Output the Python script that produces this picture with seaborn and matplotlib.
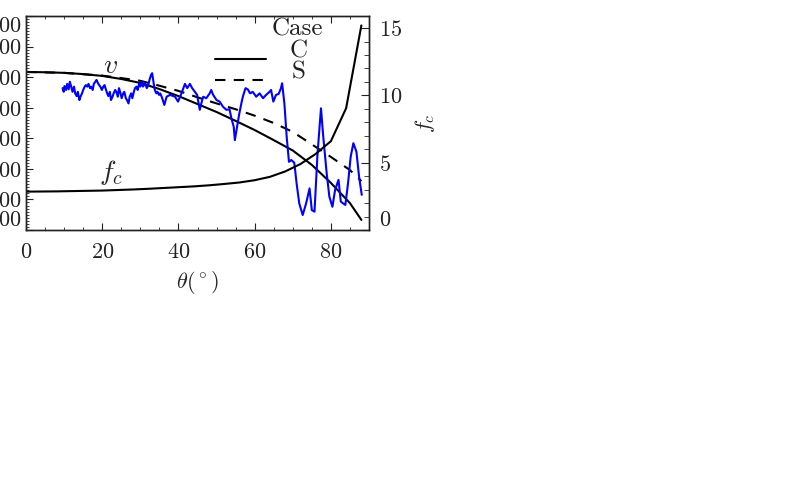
import seaborn as sns
import matplotlib.pyplot as plt
from matplotlib.ticker import MultipleLocator

# model curve, case C (solid)
theta_c = [0, 5, 10, 15, 20, 25, 30, 35, 40, 45, 50, 55, 60, 65, 70, 75, 80, 85, 88]
v_c = [6170, 6160, 6140, 6100, 6040, 5940, 5810, 5610, 5380, 5120, 4860, 4570,
       4270, 3940, 3600, 3130, 2540, 1880, 1330]

# model curve, case S (dashed)
theta_s = [0, 10, 20, 25, 30, 35, 40, 45, 50, 55, 60, 65, 70, 75, 80, 85, 88]
v_s = [6170, 6140, 6050, 5970, 5880, 5720, 5550, 5340, 5140, 4950, 4740, 4500,
       4210, 3800, 3390, 2960, 2600]

# f_c on the right axis
theta_fc = [0, 4, 8, 12, 16, 20, 24, 28, 32, 36, 40, 44, 48, 52, 56, 60, 64, 68,
            72, 76, 80, 84, 88]
fc = [2.85, 2.86, 2.87, 2.89, 2.91, 2.93, 2.97, 3.01, 3.06, 3.12, 3.18, 3.24,
      3.32, 3.42, 3.53, 3.70, 3.95, 4.35, 4.90, 5.65, 6.60, 9.05, 15.2]

# measured v (blue)
theta_obs = [9.6, 9.9, 10.1, 10.5, 10.8, 11.2, 11.5, 11.9, 12.2, 12.6, 12.9, 13.3,
             13.6, 14.0, 14.3, 14.7, 15.0, 15.4, 15.7, 16.1, 16.4, 16.8, 17.1, 17.5,
             17.8, 18.2, 18.5, 18.9, 19.2, 19.6, 19.9, 20.3, 20.6, 21.0, 21.3, 21.6,
             22.0, 22.3, 22.7, 23.0, 23.4, 23.7, 24.1, 24.4, 24.8, 25.1, 25.5, 25.8,
             26.2, 26.5, 26.9, 27.2, 27.6, 27.9, 28.3, 28.6, 29.0, 29.3, 29.7, 30.0,
             30.4, 30.7, 31.1, 31.4, 31.7, 32.1, 32.4, 32.8, 33.1, 33.5, 33.8, 34.2,
             34.5, 34.9, 35.2, 35.6, 35.9, 36.3, 36.9, 37.8, 39.1, 39.9, 40.8, 41.7,
             42.3, 43.0, 43.6, 44.3, 44.9, 45.6, 46.0, 46.5, 47.3, 48.2, 48.6, 49.1,
             50.0, 50.8, 51.7, 52.6, 53.4, 53.9, 54.5, 54.8, 55.4, 55.9, 56.5, 56.9,
             57.6, 58.2, 58.8, 59.5, 60.4, 61.3, 62.2, 63.0, 63.9, 64.3, 64.9, 65.6,
             66.3, 66.9, 67.2, 67.8, 68.4, 69.0, 69.6, 70.4, 71.0, 71.7, 72.6, 73.5,
             74.4, 75.0, 75.7, 76.5, 77.4, 78.0, 78.9, 79.6, 80.4, 81.1, 82.0, 82.6,
             83.2, 83.8, 84.5, 85.2, 85.9, 86.7, 87.4, 88.1]
v_obs = [5640, 5520, 5710, 5580, 5780, 5600, 5850, 5670, 5520, 5690, 5470, 5380,
         5520, 5250, 5360, 5470, 5580, 5690, 5740, 5690, 5780, 5640, 5690, 5580,
         5780, 5850, 5910, 5800, 5740, 5670, 5580, 5690, 5740, 5580, 5470, 5380,
         5520, 5250, 5360, 5470, 5580, 5520, 5360, 5640, 5470, 5310, 5470, 5520,
         5310, 5250, 5140, 5360, 5470, 5310, 5520, 5640, 5690, 5580, 5800, 5690,
         5850, 5690, 5800, 5740, 5640, 5740, 5910, 6070, 6130, 5800, 5580, 5470,
         5520, 5420, 5470, 5360, 5250, 5090, 5360, 5420, 5360, 5200, 5470, 5780,
         5640, 5780, 5640, 5520, 5420, 4930, 5140, 5360, 5310, 5470, 5580, 5420,
         5250, 5200, 5030, 4930, 4950, 4650, 4380, 3940, 4380, 4760, 5140, 5360,
         5640, 5600, 5470, 5520, 5360, 5470, 5310, 5420, 5520, 5580, 5200, 5420,
         5450, 5640, 5800, 5140, 4050, 3230, 3290, 3200, 2530, 1870, 1490, 1870,
         2360, 1650, 1600, 3510, 4980, 4050, 2850, 2090, 1760, 2310, 2640, 1930,
         1870, 1820, 2530, 3400, 3840, 3560, 2740, 2150]

v_ticks = [1000, 2000, 3000, 4000, 5000, 6000, 7000, 8000]
fc_ticks = [0, 5, 10, 15]

DASH = (0, (5, 4))


def main():
	sns.set_style('ticks')
	plt.rcParams['font.family'] = ['cmr10', 'DejaVu Serif']
	plt.rcParams['mathtext.fontset'] = 'cm'
	plt.rcParams['axes.formatter.use_mathtext'] = True
	plt.rcParams['font.size'] = 16

	fig = plt.figure(figsize=(7.89, 4.94), dpi=100)
	ax = fig.add_axes([26 / 789, 1 - 230 / 494, 343 / 789, 214 / 494])

	# the two model curves for v
	sns.lineplot(x=theta_c, y=v_c, color='black', lw=1.5, ax=ax)
	sns.lineplot(x=theta_s, y=v_s, color='black', lw=1.5, linestyle=DASH, ax=ax)
	# measurements on top
	sns.lineplot(x=theta_obs, y=v_obs, color='#0000ff', lw=1.5, ax=ax,
		estimator=None, sort=False)

	ax.set_xlim(0, 90)
	ax.set_ylim(1000, 8000)
	ax.xaxis.set_major_locator(MultipleLocator(20))
	ax.xaxis.set_minor_locator(MultipleLocator(5))
	ax.set_yticks(v_ticks)
	ax.yaxis.set_minor_locator(MultipleLocator(100))
	ax.tick_params(which='both', direction='in', top=True, right=False,
		labelsize=16, color='#222222', labelcolor='#222222')
	ax.tick_params(which='major', length=5, width=0.8)
	ax.tick_params(which='minor', length=2.5, width=0.6)
	ax.tick_params(axis='x', pad=9)
	ax.tick_params(axis='y', pad=3)
	ax.set_xlabel(r'$\theta(^\circ)$', fontsize=16, labelpad=5)
	ax.set_ylabel('')

	# f_c on a second axis
	ax2 = ax.twinx()
	sns.lineplot(x=theta_fc, y=fc, color='black', lw=1.5, ax=ax2)
	ax2.set_ylim(0, 15.9)
	ax2.set_yticks(fc_ticks)
	ax2.yaxis.set_minor_locator(MultipleLocator(1))
	ax2.tick_params(which='both', direction='in', labelsize=16, color='#222222',
		labelcolor='#222222', pad=7)
	ax2.tick_params(which='major', length=6, width=0.8)
	ax2.tick_params(which='minor', length=3.5, width=0.6)
	ax2.set_ylabel(r'$f_c$', fontsize=16, rotation=90, labelpad=8)

	for a in (ax, ax2):
		for sp in a.spines.values():
			sp.set_linewidth(1.0)
			sp.set_color('#222222')

	# curve labels
	ax.text(0.245, 0.766, r'$v$', transform=ax.transAxes, fontsize=20,
		ha='center', va='center')
	ax.text(0.248, 0.271, r'$f_c$', transform=ax.transAxes, fontsize=20,
		ha='center', va='center')

	# legend, drawn by hand like the original
	ax.text(0.79, 0.939, 'Case', transform=ax.transAxes, ha='center',
		va='center', fontsize=18, color='#222222')
	ax.plot([0.551, 0.700], [0.799, 0.799], transform=ax.transAxes,
		color='black', lw=1.5)
	ax.text(0.796, 0.836, 'C', transform=ax.transAxes, ha='center',
		va='center', fontsize=18, color='#222222')
	ax.plot([0.551, 0.694], [0.701, 0.701], transform=ax.transAxes,
		color='black', lw=1.5, linestyle=DASH)
	ax.text(0.796, 0.738, 'S', transform=ax.transAxes, ha='center',
		va='center', fontsize=18, color='#222222')

	# end labels sit inside the frame
	fig.canvas.draw()
	ylabels = ax.get_yticklabels()
	ylabels[0].set_va('bottom')
	ylabels[-1].set_va('top')
	ax2.get_yticklabels()[0].set_va('bottom')

	fig.savefig('out.png', dpi=100)


if __name__ == '__main__':
	main()
